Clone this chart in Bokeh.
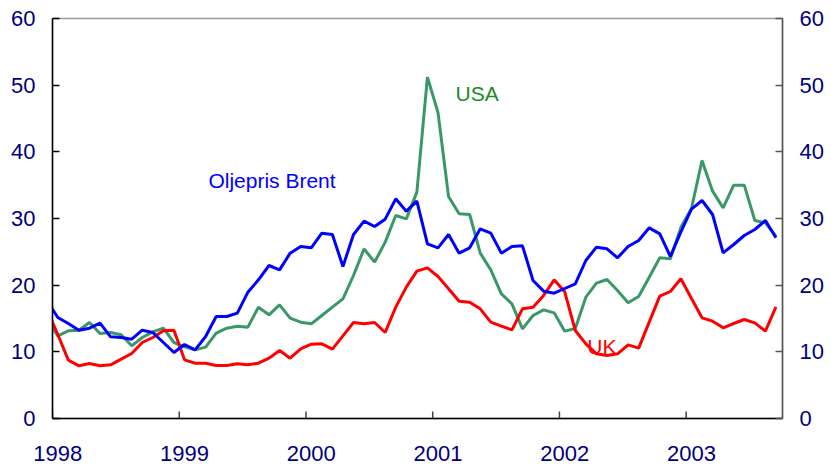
import math
from bokeh.plotting import figure
from bokeh.models import (LinearAxis, FixedTicker, Range1d, Label, CustomJSTickFormatter,
                          ColumnDataSource)
from bokeh.embed import file_html
from bokeh.resources import INLINE

# Monthly series, Dec 1997 .. Sep 2003 (first point is clipped by the left axis)
start_year = 1997
start_month = 12
brent = [17.6,
         15.15, 14.25, 13.25, 13.55, 14.3, 12.25, 12.15, 11.9, 13.25, 12.9, 11.4, 9.9,
         11.1, 10.3, 12.3, 15.3, 15.3, 15.8, 18.95, 20.8, 22.95, 22.3, 24.8, 25.8,
         25.6, 27.8, 27.6, 22.8, 27.6, 29.6, 28.8, 29.9, 32.95, 31.1, 32.6, 26.2,
         25.6, 27.6, 24.8, 25.6, 28.45, 27.8, 24.8, 25.8, 25.9, 20.7, 19.1, 18.8,
         19.5, 20.2, 23.7, 25.7, 25.45, 24.1, 25.8, 26.7, 28.6, 27.7, 24.3, 28.0,
         31.4, 32.7, 30.6, 24.85, 26.1, 27.45, 28.35, 29.7, 27.1]
usa = [14.9,
       12.4, 13.15, 13.25, 14.4, 12.75, 12.9, 12.55, 10.9, 12.15, 13.0, 13.55, 11.4,
       10.75, 10.3, 10.7, 12.8, 13.55, 13.85, 13.7, 16.7, 15.55, 17.05, 15.05, 14.45,
       14.2, 15.45, 16.7, 17.95, 21.45, 25.45, 23.45, 26.45, 30.45, 29.95, 33.95, 51.2,
       45.9, 33.3, 30.7, 30.6, 24.8, 22.3, 18.7, 17.2, 13.45, 15.45, 16.3, 15.85,
       13.1, 13.5, 18.2, 20.3, 20.85, 19.2, 17.35, 18.3, 21.2, 24.1, 23.95, 28.7,
       31.5, 38.7, 34.1, 31.6, 35.0, 35.0, 29.7, 29.35, 27.35]
uk = [16.3,
      12.6, 8.75, 7.9, 8.25, 7.9, 8.05, 8.9, 9.75, 11.4, 12.15, 13.15, 13.25,
      8.8, 8.3, 8.3, 7.95, 7.95, 8.2, 8.05, 8.3, 9.05, 10.2, 9.05, 10.45,
      11.15, 11.2, 10.4, 12.4, 14.4, 14.2, 14.4, 12.9, 16.7, 19.7, 22.1, 22.6,
      21.3, 19.45, 17.6, 17.45, 16.45, 14.45, 13.85, 13.3, 16.45, 16.7, 18.45, 20.8,
      19.0, 13.2, 11.2, 9.7, 9.45, 9.7, 11.05, 10.55, 14.45, 18.35, 19.05, 20.95,
      18.0, 15.1, 14.6, 13.6, 14.25, 14.85, 14.35, 13.1, 16.75]
years = [1998, 1999, 2000, 2001, 2002, 2003]
y_ticks = [0, 10, 20, 30, 40, 50, 60]

# mid-month positions
x = [start_year + (start_month - 1 + i + 0.5) / 12 for i in range(len(brent))]
src = ColumnDataSource(dict(x=x, brent=brent, usa=usa, uk=uk))

NAVY = "#000080"
FONT = "Liberation Sans"

p = figure(width=831, height=465, output_backend="svg", toolbar_location=None,
           x_axis_location=None, y_axis_location=None,
           x_range=Range1d(1998.0, 2003.76), y_range=Range1d(0, 60),
           min_border_left=52, min_border_right=49, min_border_top=18, min_border_bottom=47)
p.xgrid.visible = False
p.ygrid.visible = False
p.outline_line_color = "#9a9a9a"
p.outline_line_width = 1.5
p.background_fill_color = "white"
p.border_fill_color = "white"

p.line("x", "usa", source=src, line_color="#3a9868", line_width=3)
p.line("x", "uk", source=src, line_color="#ff0000", line_width=3)
p.line("x", "brent", source=src, line_color="#0000ff", line_width=3)

# year-start tick marks on the bottom axis (half of each dash is clipped by the frame)
p.scatter(x=years, y=[0] * len(years), marker="dash", angle=math.pi / 2, size=14,
          line_color="#444444", line_width=1.5)


def style_y(ax, color):
    ax.ticker = FixedTicker(ticks=y_ticks)
    ax.major_tick_in = 7
    ax.major_tick_out = 0
    ax.minor_tick_line_color = None
    ax.axis_line_color = color
    ax.axis_line_width = 1.5
    ax.major_tick_line_color = color
    ax.major_tick_line_width = 1.5
    ax.major_label_text_font = FONT
    ax.major_label_text_font_size = "22px"
    ax.major_label_text_color = NAVY
    ax.major_label_standoff = 17


yl = LinearAxis()
style_y(yl, "black")
p.add_layout(yl, "left")
yr = LinearAxis()
style_y(yr, "#555555")
p.add_layout(yr, "right")

# bottom axis: labels centred on January
xl = LinearAxis(ticker=FixedTicker(ticks=[yv + 0.5 / 12 for yv in years]),
                formatter=CustomJSTickFormatter(code="return Math.floor(tick).toString()"))
xl.axis_line_color = "black"
xl.axis_line_width = 1.5
xl.major_tick_line_color = None
xl.minor_tick_line_color = None
xl.major_label_text_font = FONT
xl.major_label_text_font_size = "22px"
xl.major_label_text_color = NAVY
xl.major_label_standoff = 21
p.add_layout(xl, "below")

p.add_layout(Label(x=1999.23, y=35.7, text="Oljepris Brent", text_baseline="middle",
                   text_font=FONT, text_font_size="21px", text_color="#0000ff"))
p.add_layout(Label(x=2001.18, y=48.75, text="USA", text_baseline="middle",
                   text_font=FONT, text_font_size="21px", text_color="#1a8a2a"))
p.add_layout(Label(x=2002.22, y=10.8, text="UK", text_baseline="middle",
                   text_font=FONT, text_font_size="21px", text_color="#ff0000"))

open("out.html", "w").write(file_html(p, INLINE))
